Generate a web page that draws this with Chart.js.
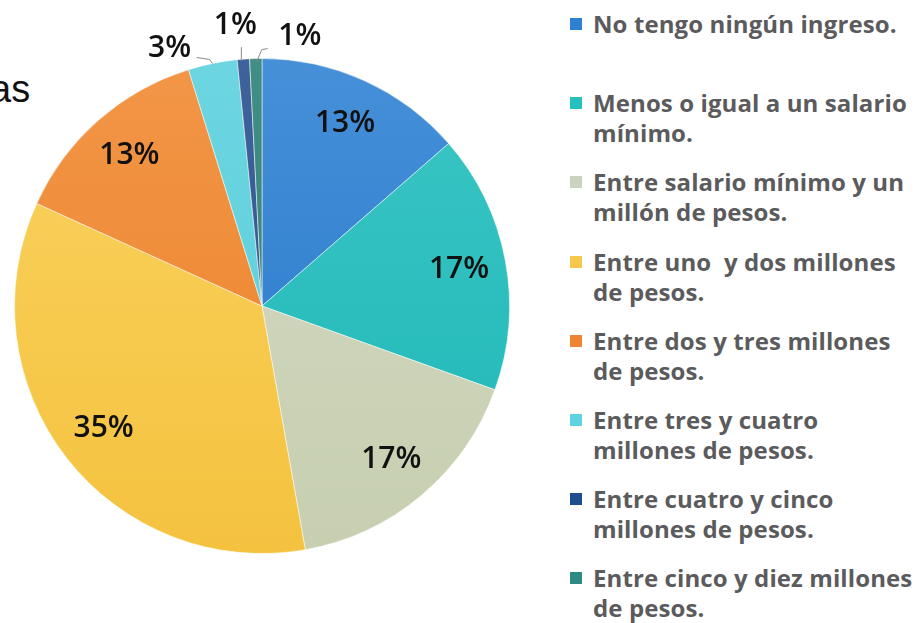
<!DOCTYPE html>
<html>
<head>
<meta charset="utf-8">
<script src="https://cdn.jsdelivr.net/npm/chart.js@4/dist/chart.umd.min.js"></script>
<style>
  html, body { margin: 0; padding: 0; background: #fff; }
  body { width: 919px; height: 623px; position: relative; overflow: hidden; }
  #wrap { position: absolute; left: 0; top: 0; width: 540px; height: 623px; }
  #cut { position: absolute; left: -10px; top: 68px; font-family: "Liberation Sans", Arial, sans-serif; font-size: 38px; color: #111; }
  #legend { position: absolute; left: 570px; top: 9px; width: 349px; font-family: "Open Sans", sans-serif; font-weight: 700; color: #5b5b5d; font-size: 24px; letter-spacing: 0.1px; }
  .item { position: absolute; left: 0; height: 79px; }
  .sw { position: absolute; left: 0; top: 9px; width: 12px; height: 12px; }
  .txt { position: absolute; left: 23px; top: 0; line-height: 30px; white-space: pre; }
</style>
</head>
<body>
<div id="cut">as</div>
<div id="wrap"><canvas id="c" width="540" height="623"></canvas></div>
<div id="legend"></div>
<script>
// ---- data ----
const categories = [
  "No tengo ningún ingreso.",
  "Menos o igual a un salario mínimo.",
  "Entre salario mínimo y un millón de pesos.",
  "Entre uno  y dos millones de pesos.",
  "Entre dos y tres millones de pesos.",
  "Entre tres y cuatro millones de pesos.",
  "Entre cuatro y cinco millones de pesos.",
  "Entre cinco y diez millones de pesos."
];
const legendLines = [
  ["No tengo ningún ingreso."],
  ["Menos o igual a un salario", "mínimo."],
  ["Entre salario mínimo y un", "millón de pesos."],
  ["Entre uno  y dos millones", "de pesos."],
  ["Entre dos y tres millones", "de pesos."],
  ["Entre tres y cuatro", "millones de pesos."],
  ["Entre cuatro y cinco", "millones de pesos."],
  ["Entre cinco y diez millones", "de pesos."]
];
const values = [13.6, 16.9, 16.7, 34.6, 13.4, 3.2, 0.8, 0.8];
const percentLabels = ["13%", "17%", "17%", "35%", "13%", "3%", "1%", "1%"];
const sliceTop = ["#4690d8", "#3cc6c4", "#d3d9c3", "#fad35f", "#f29647", "#6cd5e0", "#3f629a", "#428d85"];
const sliceBottom = ["#2475c9", "#1cb7b7", "#c7cfb0", "#f4c23f", "#ec8128", "#58cedb", "#2b548c", "#327f76"];
const swatch = ["#2f7fd0", "#26c0c0", "#c9d3bd", "#f6c94c", "#ef8533", "#5fd3e0", "#1e4e8e", "#2e8a84"];

// ---- legend (HTML) ----
const lg = document.getElementById('legend');
legendLines.forEach((lines, i) => {
  const it = document.createElement('div');
  it.className = 'item';
  it.style.top = (i * 79.2) + 'px';
  const sw = document.createElement('div');
  sw.className = 'sw';
  sw.style.background = swatch[i];
  const tx = document.createElement('div');
  tx.className = 'txt';
  tx.textContent = lines.join('\n');
  it.appendChild(sw); it.appendChild(tx);
  lg.appendChild(it);
});

// ---- label plugin ----
const labelPlugin = {
  id: 'pctLabels',
  afterDatasetsDraw(chart, args, opts) {
    const ctx = chart.ctx;
    const meta = chart.getDatasetMeta(0);
    ctx.save();
    ctx.font = '600 30px "Open Sans", sans-serif';
    ctx.fillStyle = '#111';
    ctx.textAlign = 'center';
    ctx.textBaseline = 'middle';
    meta.data.forEach((arc, i) => {
      const p = arc.getProps(['x', 'y', 'startAngle', 'endAngle', 'outerRadius'], true);
      const mid = (p.startAngle + p.endAngle) / 2;
      const small = opts.outside[i];
      if (!small) {
        const r = p.outerRadius * 0.81;
        ctx.fillText(percentLabels[i], p.x + Math.cos(mid) * r, p.y + Math.sin(mid) * r);
      } else {
        const ox = p.x + Math.cos(mid) * p.outerRadius;
        const oy = p.y + Math.sin(mid) * p.outerRadius;
        ctx.strokeStyle = '#8a8a8a';
        ctx.lineWidth = 1;
        ctx.beginPath();
        small.line.forEach((pt, k) => {
          if (k === 0) ctx.moveTo(ox + pt[0], oy + pt[1]); else ctx.lineTo(ox + pt[0], oy + pt[1]);
        });
        ctx.stroke();
        ctx.fillText(percentLabels[i], ox + small.label[0], oy + small.label[1]);
      }
    });
    ctx.restore();
  }
};

function grad(ctx) {
  const chart = ctx.chart;
  const a = chart.chartArea;
  if (!a) return sliceBottom[ctx.dataIndex];
  const g = chart.ctx.createLinearGradient(0, a.top, 0, a.bottom);
  g.addColorStop(0, sliceTop[ctx.dataIndex]);
  g.addColorStop(1, sliceBottom[ctx.dataIndex]);
  return g;
}

new Chart(document.getElementById('c'), {
  type: 'pie',
  data: {
    labels: categories,
    datasets: [{
      data: values,
      backgroundColor: grad,
      borderColor: 'rgba(255,255,255,0.5)',
      borderWidth: 1,
      hoverOffset: 0,
      offset: 0
    }]
  },
  options: {
    responsive: false,
    animation: false,
    rotation: 0,
    layout: { padding: { left: 14, right: 30, top: 58, bottom: 69 } },
    plugins: {
      legend: { display: false },
      tooltip: { enabled: false },
      pctLabels: {
        outside: [null, null, null, null, null,
          { line: [[0, 0], [-3, -4], [-16, -6]], label: [-43, -15] },
          { line: [[-2, 2], [-2, -12]], label: [-8, -34] },
          { line: [[1, 3], [6, -9], [12, -10]], label: [44, -22] }]
      }
    }
  },
  plugins: [labelPlugin]
});
</script>
</body>
</html>
